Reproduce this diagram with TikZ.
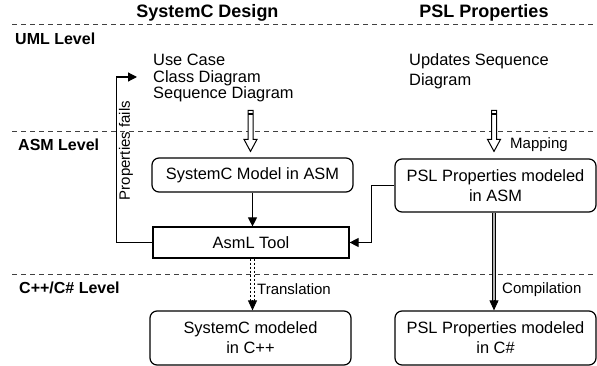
\documentclass[tikz,border=0pt]{standalone}
\usepackage{fontspec}
\setmainfont{Liberation Sans}
\usetikzlibrary{arrows.meta}
\begin{document}
\begin{tikzpicture}[x=1pt,y=-1pt,
  box/.style={draw, line width=1.2pt, rounded corners=7pt, align=center, inner sep=0pt, font=\fontsize{16.4}{20}\selectfont},
  plainbox/.style={draw, line width=1.2pt, align=center, inner sep=0pt, font=\fontsize{16.4}{20}\selectfont},
  levelline/.style={draw=black!75, line width=1pt, dash pattern=on 5pt off 4pt},
  header/.style={font=\bfseries\fontsize{18}{20}\selectfont, inner sep=0pt},
  level/.style={font=\bfseries\fontsize{16}{18}\selectfont, anchor=west, inner sep=0pt},
  lbl/.style={font=\fontsize{15}{18}\selectfont, anchor=west, inner sep=0pt},
  conn/.style={line width=1.2pt, -{Triangle[length=9pt,width=9pt]}},
  hollow/.style={draw, line width=1pt, fill=white, line join=miter},
  tiponly/.style={line width=0.8pt, -{Triangle[length=10pt,width=9pt]}}
]
\useasboundingbox (0,0) rectangle (597,366);

% level separators
\draw[levelline] (12,25) -- (597,25);
\draw[levelline] (12,132) -- (597,132);
\draw[levelline] (12,274) -- (597,274);

% headers and level labels
\node[header] (h1) at (207.5,13) {SystemC Design};
\node[header] (h2) at (484,13) {PSL Properties};
\node[level] (l1) at (15,39) {UML Level};
\node[level] (l2) at (18,145) {ASM Level};
\node[level] (l3) at (19,288) {C++/C\# Level};

% UML texts
\node[anchor=west, align=left, inner sep=0pt, font=\fontsize{16.4}{16.6}\selectfont] (umlL) at (153,78) {Use Case\\Class Diagram\\Sequence Diagram};
\node[anchor=west, align=left, inner sep=0pt, font=\fontsize{16.4}{20}\selectfont] (umlR) at (409,71) {Updates Sequence\\Diagram};

% boxes
\node[box, minimum width=201pt, minimum height=34pt] (sysasm) at (252.5,175) {SystemC Model in ASM};
\node[box, minimum width=201pt, minimum height=53pt] (pslasm) at (495.5,185.5) {PSL Properties modeled\\in ASM};
\node[plainbox, minimum width=196pt, minimum height=31pt] (asml) at (251,242.5) {AsmL Tool};
\node[box, minimum width=201pt, minimum height=54pt] (syscpp) at (250.5,338) {SystemC modeled\\in C++};
\node[box, minimum width=201pt, minimum height=54pt] (pslcs) at (495.5,338) {PSL Properties modeled\\in C\#};

% hollow arrows (UML -> ASM)
\draw[hollow] ([xshift=-2pt,yshift=6pt]sysasm.north) -- ++(-6.5,-12) -- ++(4,0) -- ++(0,-29) -- ++(5,0) -- ++(0,29) -- ++(4,0) -- cycle;
\draw[line width=1.8pt] ([xshift=-2pt,yshift=6pt]sysasm.north) ++(-2.5,-37.5) -- ++(5,0);
\draw[hollow] ([xshift=-1.5pt,yshift=7pt]pslasm.north) -- ++(-6.5,-12) -- ++(4,0) -- ++(0,-29) -- ++(5,0) -- ++(0,29) -- ++(4,0) -- cycle;
\draw[line width=1.8pt] ([xshift=-1.5pt,yshift=7pt]pslasm.north) ++(-2.5,-37.5) -- ++(5,0);
\node[lbl] (map) at (510,145) {Mapping};

% ASM level connectors
\draw[conn] (sysasm.south) -- (sysasm.south |- asml.north);
\draw[conn] (pslasm.west) -- ++(-23,0) |- (asml.east);
\draw[conn] (asml.west) -- ++(-36,0) |- ([xshift=-16pt,yshift=1pt]umlL.west);
\node[rotate=90, inner sep=0pt, font=\fontsize{15}{18}\selectfont] (pf) at (126,150.5) {Properties fails};

% translation (dashed double)
\draw[line width=1pt, dash pattern=on 2.5pt off 1.5pt] ([xshift=-0.5pt]asml.south) -- ([xshift=-0.5pt,yshift=9pt]asml.south |- syscpp.north);
\draw[line width=1pt, dash pattern=on 2.5pt off 1.5pt] ([xshift=3.5pt]asml.south) -- ([xshift=3.5pt,yshift=9pt]asml.south |- syscpp.north);
\draw[tiponly] ([xshift=1.5pt,yshift=10pt]asml.south |- syscpp.north) -- ([xshift=1.5pt]asml.south |- syscpp.north);
\node[lbl] (tr) at (257,289) {Translation};

% compilation (gray double)
\draw[line width=0.9pt, double=gray!60, double distance=2.4pt] ([xshift=-1.5pt]pslasm.south) -- ([xshift=-1.5pt,yshift=9pt]pslcs.north);
\draw[tiponly] ([xshift=-1.5pt,yshift=10pt]pslcs.north) -- ([xshift=-1.5pt]pslcs.north);
\node[lbl] (cp) at (502,290) {Compilation};
\end{tikzpicture}
\end{document}
